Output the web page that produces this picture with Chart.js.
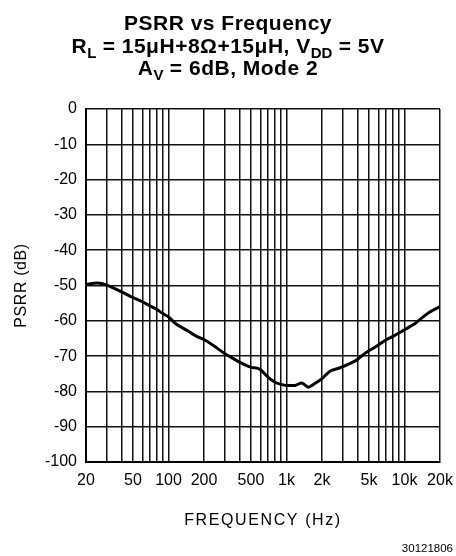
<!DOCTYPE html>
<html>
<head>
<meta charset="utf-8">
<script src="https://cdn.jsdelivr.net/npm/chart.js@4/dist/chart.umd.min.js"></script>
<style>
  html, body { margin: 0; padding: 0; background: #fff; }
  #wrap { width: 456px; height: 556px; }
</style>
</head>
<body>
<div id="wrap"><canvas id="c" width="456" height="556"></canvas></div>
<script>
// ---- data ----
const freqHz = [20, 25, 30, 40, 50, 60, 70, 80, 90, 100, 117, 143, 173, 200, 240, 300, 350, 400, 500, 560, 600, 700, 800, 900, 1000, 1180, 1350, 1530, 1700, 2000, 2350, 2850, 3900, 4600, 5800, 6900, 8000, 9800, 12000, 14400, 16400, 20000];
const psrrDb = [-49.7, -49.3, -49.9, -51.8, -53.4, -54.6, -55.8, -56.8, -58.0, -58.9, -61.0, -62.7, -64.4, -65.3, -67.0, -69.3, -70.6, -71.7, -73.2, -73.4, -73.8, -76.0, -77.4, -78.0, -78.3, -78.3, -77.6, -78.8, -78.0, -76.4, -74.2, -73.3, -71.2, -69.3, -67.2, -65.5, -64.4, -62.7, -61.0, -58.9, -57.5, -56.0];
const xGridValues = [20, 30, 40, 50, 60, 70, 80, 90, 100, 200, 300, 400, 500, 600, 700, 800, 900, 1000, 2000, 3000, 4000, 5000, 6000, 7000, 8000, 9000, 10000, 20000];
const xTickValues = [20, 50, 100, 200, 500, 1000, 2000, 5000, 10000, 20000];
const xTickLabels = ['20', '50', '100', '200', '500', '1k', '2k', '5k', '10k', '20k'];
const titleLines = [
  [{t: 'PSRR vs Frequency'}],
  [{t: 'R'}, {t: 'L', sub: true}, {t: ' = 15\u03BCH+8\u03A9+15\u03BCH, V'}, {t: 'DD', sub: true}, {t: ' = 5V'}],
  [{t: 'A'}, {t: 'V', sub: true}, {t: ' = 6dB, Mode 2'}]
];
const xAxisTitle = 'FREQUENCY (Hz)';
const yAxisTitle = 'PSRR (dB)';
const figureNumber = '30121806';

const FONT = '"Liberation Sans", Arial, Helvetica, sans-serif';

const textPlugin = {
  id: 'textPlugin',
  afterDraw(chart) {
    const ctx = chart.ctx;
    const ca = chart.chartArea;
    ctx.save();
    ctx.fillStyle = '#000';
    ctx.textBaseline = 'alphabetic';
    // Title
    const baselines = [30, 53, 75];
    const cx = 228;
    titleLines.forEach((segs, i) => {
      let total = 0;
      const widths = segs.map(s => {
        ctx.font = 'bold ' + (s.sub ? 15 : 21) + 'px ' + FONT;
        ctx.letterSpacing = s.sub ? '0px' : '0.5px';
        const w = ctx.measureText(s.t).width;
        total += w;
        return w;
      });
      let x = cx - total / 2;
      ctx.textAlign = 'left';
      segs.forEach((s, j) => {
        ctx.font = 'bold ' + (s.sub ? 15 : 21) + 'px ' + FONT;
        ctx.letterSpacing = s.sub ? '0px' : '0.5px';
        ctx.fillText(s.t, x, baselines[i] + (s.sub ? 5 : 0));
        x += widths[j];
      });
    });
    // x axis title
    ctx.font = '16px ' + FONT;
    ctx.letterSpacing = '1.6px';
    ctx.textAlign = 'center';
    ctx.fillText(xAxisTitle, (ca.left + ca.right) / 2, 525);
    // y axis title
    ctx.save();
    ctx.translate(26, (ca.top + ca.bottom) / 2);
    ctx.rotate(-Math.PI / 2);
    ctx.letterSpacing = '0.6px';
    ctx.fillText(yAxisTitle, 0, 0);
    ctx.restore();
    // figure number
    ctx.font = '11.5px ' + FONT;
    ctx.letterSpacing = '0px';
    ctx.textAlign = 'right';
    ctx.fillText(figureNumber, 453, 552);
    ctx.restore();
  }
};

new Chart(document.getElementById('c'), {
  type: 'line',
  data: {
    datasets: [{
      data: freqHz.map((f, i) => ({x: f, y: psrrDb[i]})),
      borderColor: '#000',
      borderWidth: 3,
      pointRadius: 0,
      tension: 0.25,
      fill: false
    }]
  },
  options: {
    responsive: false,
    animation: false,
    devicePixelRatio: 1,
    layout: { padding: { top: 109, right: 16, left: 0, bottom: 0 } },
    plugins: { legend: { display: false }, title: { display: false }, tooltip: { enabled: false } },
    scales: {
      x: {
        type: 'logarithmic',
        min: 20,
        max: 20000,
        afterBuildTicks(scale) { scale.ticks = xGridValues.map(v => ({value: v})); },
        afterFit(scale) { scale.height = 94; scale.paddingRight = 0; scale.paddingLeft = 0; },
        ticks: {
          autoSkip: false,
          maxRotation: 0,
          minRotation: 0,
          padding: 9,
          color: '#000',
          font: { family: FONT, size: 16 },
          callback(v) { const i = xTickValues.indexOf(v); return i >= 0 ? xTickLabels[i] : ''; }
        },
        grid: { color: '#111', lineWidth: 1.5, drawTicks: false },
        border: { color: '#000', width: 2 }
      },
      y: {
        min: -100,
        max: 0,
        afterFit(scale) { scale.width = 86; scale.paddingTop = 0; scale.paddingBottom = 0; },
        ticks: {
          stepSize: 10,
          padding: 9,
          color: '#000',
          font: { family: FONT, size: 16 }
        },
        grid: { color: '#111', lineWidth: 1.5, drawTicks: false },
        border: { color: '#000', width: 2 }
      }
    }
  },
  plugins: [textPlugin]
});
</script>
</body>
</html>
